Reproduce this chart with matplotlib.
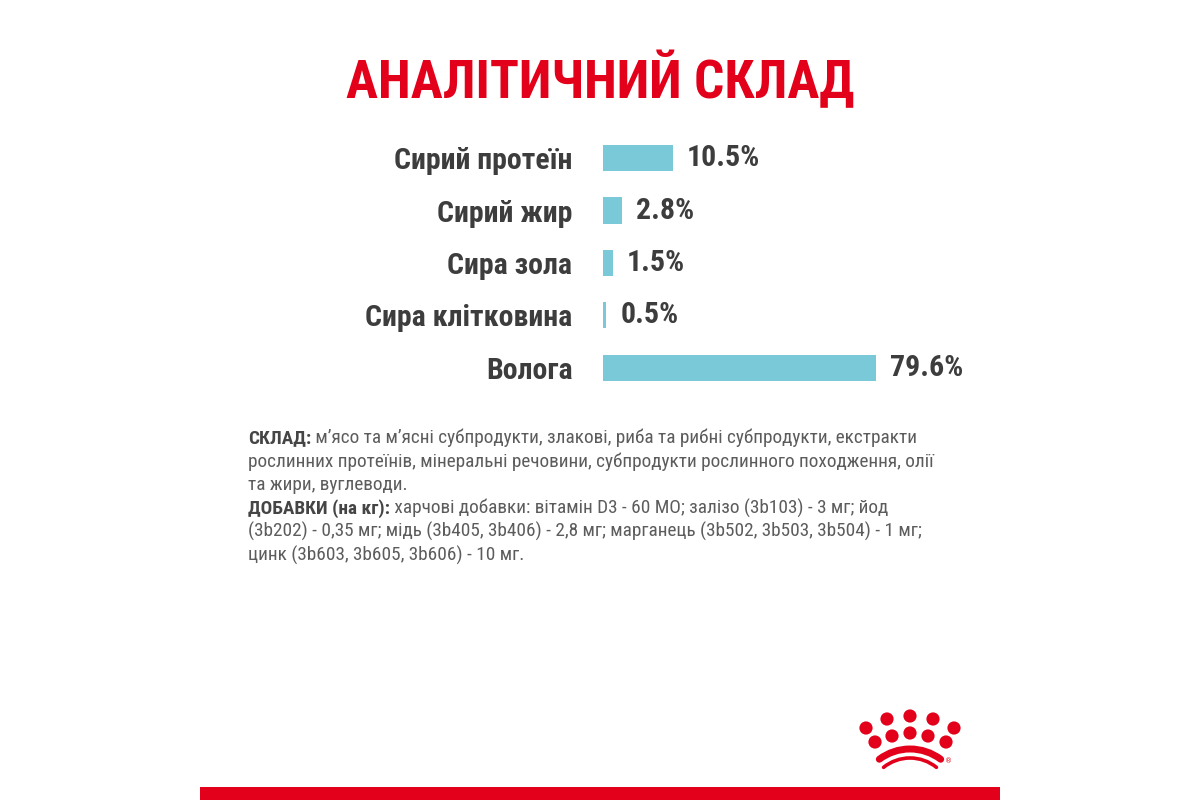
import matplotlib
matplotlib.use("Agg")
import matplotlib.pyplot as plt
from matplotlib.patches import Circle, Arc, Rectangle
from matplotlib.transforms import offset_copy

categories = ["Сирий протеїн", "Сирий жир", "Сира зола", "Сира клітковина", "Волога"]
values = [10.5, 2.8, 1.5, 0.5, 79.6]
value_labels = ["10.5%", "2.8%", "1.5%", "0.5%", "79.6%"]
title = "АНАЛІТИЧНИЙ СКЛАД"
body = [
    ("СКЛАД:", " м’ясо та м’ясні субпродукти, злакові, риба та рибні субпродукти, екстракти"),
    ("", "рослинних протеїнів, мінеральні речовини, субпродукти рослинного походження, олії"),
    ("", "та жири, вуглеводи."),
    ("ДОБАВКИ (на кг):", " харчові добавки: вітамін D3 - 60 МО; залізо (3b103) - 3 мг; йод"),
    ("", "(3b202) - 0,35 мг; мідь (3b405, 3b406) - 2,8 мг; марганець (3b502, 3b503, 3b504) - 1 мг;"),
    ("", "цинк (3b603, 3b605, 3b606) - 10 мг."),
]

FONT = ["Roboto Condensed", "DejaVu Sans"]
RED = "#e2001a"
BAR = "#79c9d9"
DARK = "#3d3d3d"
GREY = "#5c5c5c"

W, H = 1200, 800
fig = plt.figure(figsize=(12, 8), dpi=100)
fig.patch.set_facecolor("white")
fig.canvas.draw()
renderer = fig.canvas.get_renderer()


def fit_size(text, weight, target_px, base=20):
    t = fig.text(0, 0, text, family=FONT, fontweight=weight, fontsize=base)
    w = t.get_window_extent(renderer).width
    t.remove()
    return base * target_px / w


title_fs = fit_size(title, "bold", 509)
label_fs = fit_size(categories[0], "bold", 178)
body_fs = fit_size(body[0][0] + body[0][1], "normal", 669)

# title
fig.text(600 / W, 1 - 80 / H, title, ha="center", va="center", color=RED,
         fontsize=title_fs, fontweight="bold", family=FONT)

# bar axes
top_px, bot_px = 132, 394
left_px, right_px = 603, 876
ax = fig.add_axes([left_px / W, 1 - bot_px / H, (right_px - left_px) / W, (bot_px - top_px) / H])
cap = 41.0
ax.barh(range(len(values)), values, height=0.5, color=BAR)
ax.set_xlim(0, cap)
ax.set_ylim(len(values) - 0.5, -0.5)
ax.set_yticks(range(len(values)))
ax.set_yticklabels(categories, family=FONT, fontweight="bold", fontsize=label_fs, color=DARK)
ax.tick_params(axis="y", length=0, pad=22)
ax.set_xticks([])
for s in ax.spines.values():
    s.set_visible(False)
trans = offset_copy(ax.transData, fig=fig, x=14 * 0.72, y=0, units="points")
for i, (v, lab) in enumerate(zip(values, value_labels)):
    ax.text(min(v, cap), i, lab, transform=trans, ha="left", va="center",
            family=FONT, fontweight="bold", fontsize=label_fs, color=DARK, clip_on=False)

# body text
x0 = 248
y0 = 438
dy = 23.4
for k, (b, r) in enumerate(body):
    y = 1 - (y0 + k * dy) / H
    x = x0 / W
    if b:
        t = fig.text(x, y, b, ha="left", va="center", family=FONT, fontweight="bold",
                     fontsize=body_fs, color="#454545")
        bb = t.get_window_extent(renderer)
        x = bb.x1 / W
    fig.text(x, y, r, ha="left", va="center", family=FONT, fontsize=body_fs, color=GREY)

# overlay for logo and bottom bar
ov = fig.add_axes([0, 0, 1, 1])
ov.set_xlim(0, W)
ov.set_ylim(0, H)
ov.axis("off")
ov.add_patch(Rectangle((200, 0), 800, 13, color=RED, lw=0))
dots = [(866, 728), (887, 719), (910, 716), (933, 719), (954, 728),
        (875, 742), (892, 736), (910, 733), (928, 736), (946, 742)]
for (x, y) in dots:
    ov.add_patch(Circle((x, H - y), 6.6, color=RED, lw=0))
ov.add_patch(Arc((910, H - 800), 102, 102, theta1=53, theta2=127, color=RED, lw=5, capstyle="round"))
ov.add_patch(Arc((910, H - 800), 84, 84, theta1=51, theta2=129, color=RED, lw=2.6, capstyle="round"))
ov.text(949, H - 761, "®", color=RED, fontsize=5, ha="center", va="center")

fig.savefig("out.png", dpi=100, facecolor="white")
